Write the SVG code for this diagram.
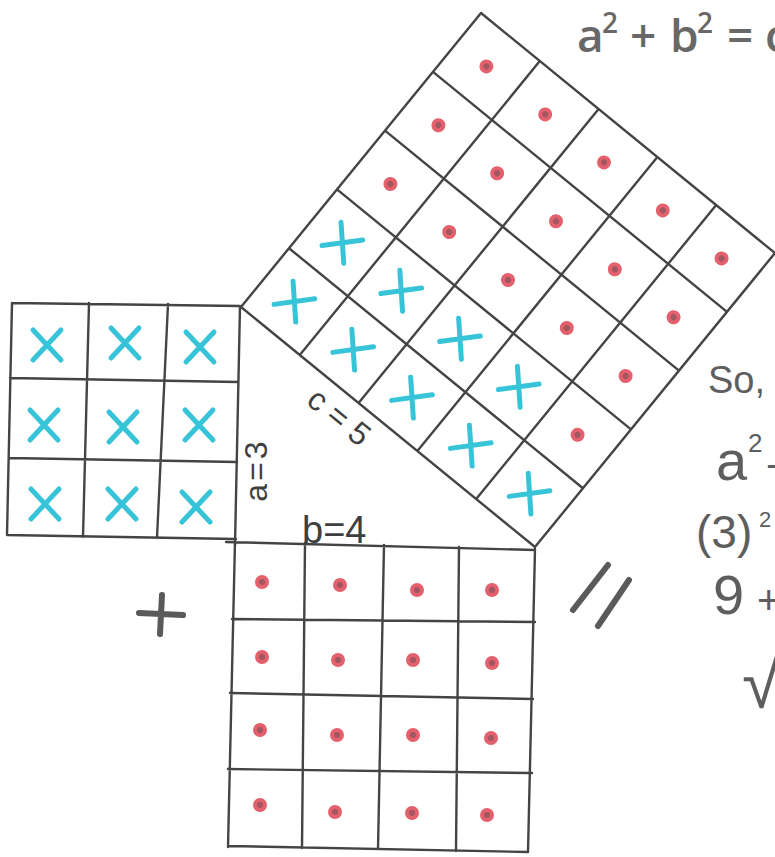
<svg xmlns="http://www.w3.org/2000/svg" xmlns:xlink="http://www.w3.org/1999/xlink" width="775" height="857" viewBox="0 0 775 857">
<style>
.grid{fill:none;stroke:#444;stroke-width:2.4;stroke-linecap:round;stroke-linejoin:round}
.cross{fill:none;stroke:#38c4d8;stroke-width:5;stroke-linecap:round}
.hand{font-family:"Liberation Sans","DejaVu Sans",sans-serif;fill:#3f3f3f}
.work{font-family:"Liberation Sans","DejaVu Sans",sans-serif;fill:#5e5e5e}
.formula{font-family:"Open Sans","Liberation Sans",sans-serif;font-weight:600;fill:#686868;font-size:46px}
.mark{fill:none;stroke:#5a5a5a;stroke-width:6;stroke-linecap:round}
</style>
<defs>
<path id="x" d="M-14,-15 L14,15 M14,-15 L-14,15"/>
<g id="dot"><circle r="7" fill="#e4606d"/><circle r="3" fill="#7b5358" opacity="0.65"/></g>
</defs>
<rect width="775" height="857" fill="#ffffff"/>

<g id="square-a">
<path class="grid" d="M12,303 L240,306 M10,378 L238,382 M9,458 L237,462 M7,535 L236,539 M12,303 L7,535 M89,303 L83,537 M168,304 L157,538 M240,306 L235,545"/>
<g class="cross">
<use xlink:href="#x" x="47" y="345"/><use xlink:href="#x" x="125" y="343"/><use xlink:href="#x" x="200" y="347"/>
<use xlink:href="#x" x="44" y="425"/><use xlink:href="#x" x="123" y="427"/><use xlink:href="#x" x="199" y="425"/>
<use xlink:href="#x" x="45" y="504"/><use xlink:href="#x" x="122" y="504"/><use xlink:href="#x" x="196" y="507"/>
</g>
</g>

<g id="square-b">
<path class="grid" d="M226,542 L535,550 M232,619 L535,622 M230,693 L533,699 M228,769 L532,773 M228,846 L528,852 M235,541 L228,847 M305,543 L302,848 M384,545 L378,849 M459,547 L456,851 M535,549 L528,852"/>
<use xlink:href="#dot" x="262" y="582"/><use xlink:href="#dot" x="340" y="585"/><use xlink:href="#dot" x="417" y="590"/><use xlink:href="#dot" x="492" y="590"/>
<use xlink:href="#dot" x="262" y="657"/><use xlink:href="#dot" x="338" y="660"/><use xlink:href="#dot" x="413" y="660"/><use xlink:href="#dot" x="492" y="663"/>
<use xlink:href="#dot" x="260" y="730"/><use xlink:href="#dot" x="337" y="735"/><use xlink:href="#dot" x="413" y="735"/><use xlink:href="#dot" x="491" y="738"/>
<use xlink:href="#dot" x="260" y="805"/><use xlink:href="#dot" x="335" y="812"/><use xlink:href="#dot" x="412" y="813"/><use xlink:href="#dot" x="487" y="815"/>
</g>

<g id="square-c" transform="translate(241 307) rotate(39.23)">
<path class="grid" d="M0,0 L379.5,0 M0,-75.9 L379.5,-75.9 M0,-151.8 L379.5,-151.8 M0,-227.7 L379.5,-227.7 M0,-303.6 L379.5,-303.6 M0,-379.5 L379.5,-379.5 M0,0 L0,-379.5 M75.9,0 L75.9,-379.5 M151.8,0 L151.8,-379.5 M227.7,0 L227.7,-379.5 M303.6,0 L303.6,-379.5 M379.5,0 L379.5,-379.5"/>
<g class="cross">
<use xlink:href="#x" x="37.95" y="-37.95"/><use xlink:href="#x" x="113.85" y="-37.95"/><use xlink:href="#x" x="189.75" y="-37.95"/><use xlink:href="#x" x="265.65" y="-37.95"/><use xlink:href="#x" x="341.55" y="-37.95"/>
<use xlink:href="#x" x="37.95" y="-113.85"/><use xlink:href="#x" x="113.85" y="-113.85"/><use xlink:href="#x" x="189.75" y="-113.85"/><use xlink:href="#x" x="265.65" y="-113.85"/>
</g>
<use xlink:href="#dot" x="341.55" y="-113.85"/>
<use xlink:href="#dot" x="37.95" y="-189.75"/><use xlink:href="#dot" x="113.85" y="-189.75"/><use xlink:href="#dot" x="189.75" y="-189.75"/><use xlink:href="#dot" x="265.65" y="-189.75"/><use xlink:href="#dot" x="341.55" y="-189.75"/>
<use xlink:href="#dot" x="37.95" y="-265.65"/><use xlink:href="#dot" x="113.85" y="-265.65"/><use xlink:href="#dot" x="189.75" y="-265.65"/><use xlink:href="#dot" x="265.65" y="-265.65"/><use xlink:href="#dot" x="341.55" y="-265.65"/>
<use xlink:href="#dot" x="37.95" y="-341.55"/><use xlink:href="#dot" x="113.85" y="-341.55"/><use xlink:href="#dot" x="189.75" y="-341.55"/><use xlink:href="#dot" x="265.65" y="-341.55"/><use xlink:href="#dot" x="341.55" y="-341.55"/>
<text class="hand" x="150" y="34" font-size="32" letter-spacing="9" text-anchor="middle">c=5</text>
</g>

<g id="labels">
<text class="hand" transform="translate(267 470) rotate(-90)" font-size="32" letter-spacing="3" text-anchor="middle">a=3</text>
<text class="hand" x="302" y="543" font-size="38">b=4</text>
</g>

<g id="operators">
<path class="mark" d="M139,613 L183,615 M162,595 L160,634"/>
<path class="mark" d="M608,565 L573,610 M629,580 L598,626"/>
</g>

<g id="formula">
<text class="formula" y="52"><tspan x="577">a</tspan><tspan x="602" y="33" font-size="28">2</tspan><tspan x="630" y="52">+</tspan><tspan x="670">b</tspan><tspan x="697" y="33" font-size="28">2</tspan><tspan x="727" y="52">=</tspan><tspan x="765">c</tspan></text>
</g>

<g id="work">
<text class="work" x="708" y="393" font-size="38">So,</text>
<text class="work" y="480"><tspan x="716" font-size="56">a</tspan><tspan x="748" y="452" font-size="26">2</tspan><tspan x="766" y="480" font-size="40">+</tspan></text>
<text class="work" y="548"><tspan x="696" font-size="46">(3)</tspan><tspan x="759" y="527" font-size="22">2</tspan></text>
<text class="work" y="614"><tspan x="713" font-size="56">9</tspan><tspan x="757" font-size="40">+</tspan></text>
<text class="work" x="742" y="708" font-size="70">√</text>
</g>
</svg>
